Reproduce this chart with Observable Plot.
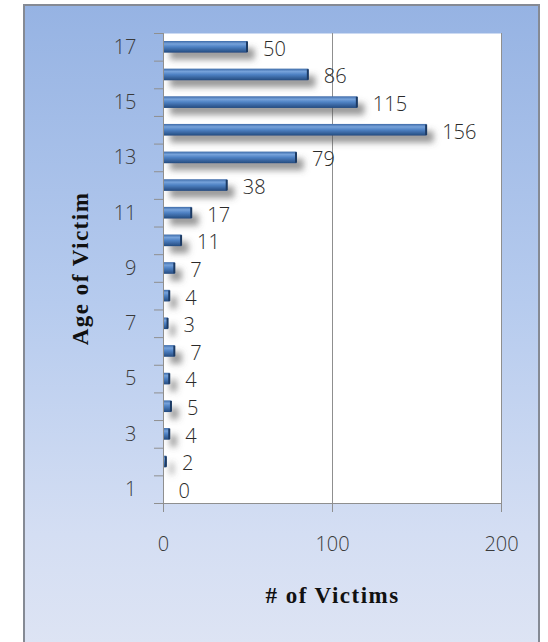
<!DOCTYPE html>
<html>
<head>
<meta charset="utf-8">
<script src="https://cdn.jsdelivr.net/npm/d3@7"></script>
<script src="https://cdn.jsdelivr.net/npm/@observablehq/plot@0.6"></script>
<style>
  body { margin: 0; background: #ffffff; }
  #wrap { position: relative; width: 548px; height: 642px; overflow: hidden; }
  #bg {
    position: absolute; left: 23px; top: 4px; width: 513px; height: 660px;
    border: 2px solid #858a94;
    background: linear-gradient(#96b3e3 0%, #b6cbee 45%, #d4def3 80%, #dfe5f4 100%);
  }
  #chart { position: absolute; left: 0; top: 0; }
</style>
</head>
<body>
<div id="wrap"><div id="bg"></div><div id="chart"></div></div>
<script>
const ages = [1, 2, 3, 4, 5, 6, 7, 8, 9, 10, 11, 12, 13, 14, 15, 16, 17];
const victims = [0, 2, 4, 5, 4, 7, 3, 4, 7, 11, 17, 38, 79, 156, 115, 86, 50];
const xTicks = [0, 100, 200];
const yTickLabels = [1, 3, 5, 7, 9, 11, 13, 15, 17];
const yBoundaries = [0.5, 1.5, 2.5, 3.5, 4.5, 5.5, 6.5, 7.5, 8.5, 9.5, 10.5, 11.5, 12.5, 13.5, 14.5, 15.5, 16.5, 17.5];
const xTitle = "# of Victims";
const yTitle = "Age of Victim";

const data = ages.map((a, i) => ({age: a, victims: victims[i]}));

const tickFont = "'Open Sans', 'DejaVu Sans', sans-serif";
const titleFont = "'Liberation Serif', 'DejaVu Serif', serif";

const chart = Plot.plot({
  width: 548,
  height: 642,
  marginLeft: 163,
  marginRight: 47,
  marginTop: 33,
  marginBottom: 139,
  style: {background: "transparent", fontFamily: tickFont, color: "#3a3a3a", overflow: "visible"},
  x: {domain: [0, 200], axis: null},
  y: {domain: [0.5, 17.5], axis: null},
  marks: [
    Plot.frame({fill: "white", stroke: null}),
    Plot.ruleX([100, 200], {stroke: "#8f8f8f", strokeWidth: 1}),
    Plot.rectX(data, {
      x1: 0, x2: "victims",
      y1: d => d.age - 0.5, y2: d => d.age + 0.5,
      insetTop: 8, insetBottom: 8,
      fill: "url(#barGrad)"
    }),
    Plot.ruleX(data.filter(d => d.victims > 0), {
      x: "victims",
      y1: d => d.age - 0.19, y2: d => d.age + 0.19,
      stroke: "#1c3a63", strokeWidth: 2, dx: -1
    }),
    Plot.ruleX([0], {stroke: "#8f8f8f", strokeWidth: 1}),
    Plot.ruleY([0.5], {stroke: "#8f8f8f", strokeWidth: 1}),
    Plot.axisY(yBoundaries, {tickSize: 9, tickFormat: () => "", stroke: "#8f8f8f", label: null}),
    Plot.axisY(yTickLabels, {tickSize: 0, tickPadding: 27, fontSize: 20, fill: "#3a3a3a", label: null, fontWeight: 300}),
    Plot.axisX(xTicks, {tickSize: 9, tickPadding: 24, fontSize: 20, stroke: "#8f8f8f", fill: "#3a3a3a", label: null, fontWeight: 300}),
    Plot.text(data, {
      x: "victims", y: "age",
      text: d => String(d.victims),
      textAnchor: "start", dx: 15, dy: 2,
      fontSize: 20, fill: "#2a2a2a", fontWeight: 300
    }),
    Plot.text([xTitle], {
      frameAnchor: "bottom", dy: 99, textAnchor: "middle",
      fontFamily: titleFont, fontWeight: "bold", fontSize: 23, fill: "#111"
    }),
    Plot.text([yTitle], {
      frameAnchor: "left", dx: -83, rotate: -90, textAnchor: "middle",
      fontFamily: titleFont, fontWeight: "bold", fontSize: 23, fill: "#111"
    })
  ]
});

// defs: gradient + drop shadow for bars
const ns = "http://www.w3.org/2000/svg";
const defs = document.createElementNS(ns, "defs");
defs.innerHTML = `
  <linearGradient id="barGrad" x1="0" y1="0" x2="0" y2="1">
    <stop offset="0" stop-color="#3d6aa8"/>
    <stop offset="0.25" stop-color="#76a2da"/>
    <stop offset="0.5" stop-color="#4f82c4"/>
    <stop offset="1" stop-color="#234a7e"/>
  </linearGradient>
  <filter id="shadow" x="-20%" y="-50%" width="160%" height="300%">
    <feDropShadow dx="7" dy="7" stdDeviation="3" flood-color="#555" flood-opacity="0.6"/>
  </filter>`;
chart.insertBefore(defs, chart.firstChild);
const rectG = chart.querySelector('g[aria-label="rect"]');
if (rectG) rectG.setAttribute("filter", "url(#shadow)");
// letter spacing for the serif axis titles
chart.querySelectorAll('g[aria-label="text"] text').forEach(t => {
  if (t.textContent === xTitle || t.textContent === yTitle) t.setAttribute("letter-spacing", "1.5");
});
document.getElementById("chart").appendChild(chart);
</script>
</body>
</html>
